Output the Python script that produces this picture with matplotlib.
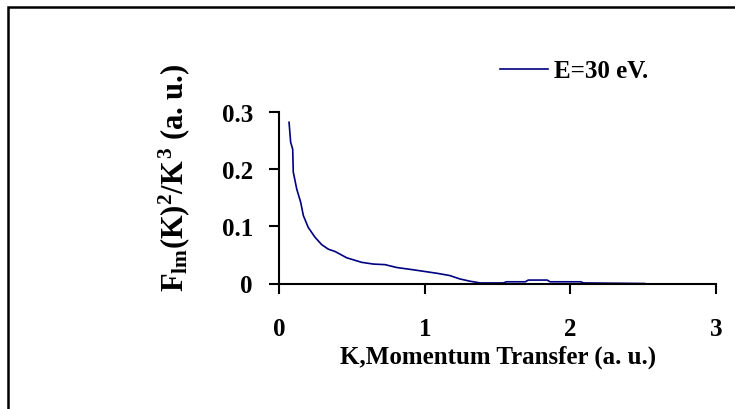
import matplotlib
matplotlib.use('Agg')
import matplotlib.pyplot as plt
from matplotlib.patches import Rectangle

# data
K = [0.067, 0.078, 0.092, 0.096, 0.12, 0.147, 0.165, 0.199, 0.245, 0.291,
     0.337, 0.383, 0.463, 0.566, 0.646, 0.726, 0.806, 0.92, 1.0, 1.08,
     1.17, 1.24, 1.31, 1.38, 1.54, 1.56, 1.69, 1.71, 1.84, 1.86,
     2.07, 2.09, 2.51]
F = [0.282, 0.247, 0.235, 0.195, 0.165, 0.142, 0.119, 0.098, 0.081, 0.068,
     0.060, 0.056, 0.045, 0.037, 0.034, 0.033, 0.028, 0.024, 0.021, 0.018,
     0.014, 0.008, 0.004, 0.001, 0.001, 0.003, 0.003, 0.006, 0.006, 0.003,
     0.003, 0.001, 0.0]
series_label = 'E=30 eV.'
xticks = [0, 1, 2, 3]
yticks = [0, 0.1, 0.2, 0.3]
ytick_labels = ['0', '0.1', '0.2', '0.3']

plt.rcParams['font.family'] = ['Liberation Serif']
plt.rcParams['font.weight'] = 'bold'
plt.rcParams['mathtext.fontset'] = 'custom'
plt.rcParams['mathtext.rm'] = 'Liberation Serif:bold'
plt.rcParams['mathtext.it'] = 'Liberation Serif:bold'
plt.rcParams['mathtext.bf'] = 'Liberation Serif:bold'

fig = plt.figure(figsize=(7.35, 4.10), dpi=100)
ax = fig.add_axes([279.3/735, 125.5/410, 436.7/735, 171.5/410])

ax.plot(K, F, color='#000080', lw=1.2, label=series_label)

ax.set_xlim(0, 3)
ax.set_ylim(0, 0.3)
ax.set_xticks(xticks)
ax.set_xticklabels([str(t) for t in xticks])
ax.set_yticks(yticks)
ax.set_yticklabels(ytick_labels)
ax.tick_params(axis='both', labelsize=18, width=1.5, length=7, color='black')
ax.tick_params(axis='x', pad=17)
ax.tick_params(axis='y', pad=12)
for s in ['top', 'right']:
    ax.spines[s].set_visible(False)
for s in ['left', 'bottom']:
    ax.spines[s].set_linewidth(1.5)

ax.set_xlabel('K,Momentum Transfer (a. u.)', fontsize=18, fontweight='bold')
ax.xaxis.label.set_va('center')
ax.xaxis.set_label_coords(0.5, -0.423)
ax.set_ylabel(r'$F_{lm}(K)^2/K^3$ (a. u.)', fontsize=22, fontweight='bold')
ax.yaxis.set_label_coords(-0.20, 0.62)

ax.legend(loc='center left', bbox_to_anchor=(500/735, 1 - 72/410),
          bbox_transform=fig.transFigure, frameon=False, fontsize=18,
          handlelength=1.9, handletextpad=0.25, borderpad=0, borderaxespad=0)

# outer frame (only left/top edges visible in the picture)
fig.add_artist(Rectangle((8/735, -0.2), 2, 1.2 - 7.5/410, transform=fig.transFigure,
                         fill=False, edgecolor='black', lw=1.8, clip_on=False))

fig.savefig('out.png', dpi=100)
